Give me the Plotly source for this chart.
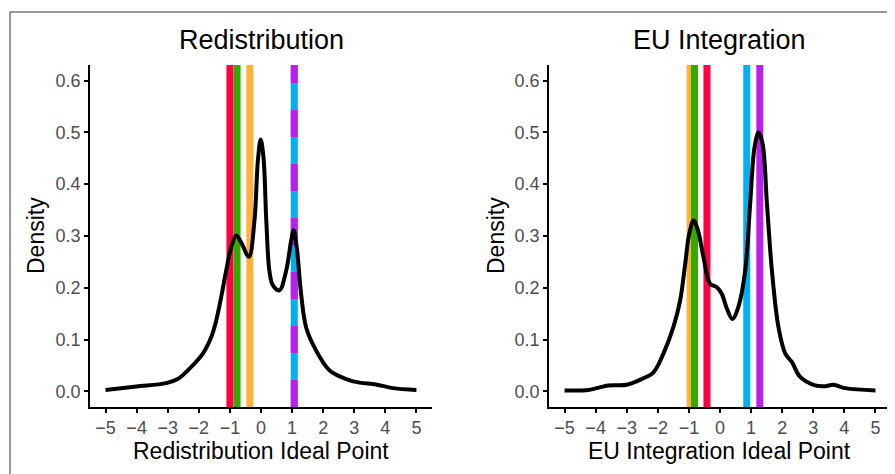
import plotly.graph_objects as go

# ---- data ----
redis_x = [-5.0, -4.01, -3.05, -2.68, -2.30, -1.87, -1.60, -1.44, -1.28, -1.12, -0.96, -0.80,
           -0.64, -0.39, -0.21, -0.10, -0.01, 0.08, 0.17, 0.27, 0.38, 0.59, 0.81, 0.97, 1.05,
           1.15, 1.29, 1.45, 1.72, 2.20, 2.74, 3.17, 3.70, 4.24, 5.0]
redis_y = [0.003, 0.0096, 0.016, 0.024, 0.044, 0.073, 0.105, 0.137, 0.182, 0.233, 0.278, 0.301,
           0.288, 0.260, 0.330, 0.446, 0.486, 0.452, 0.33, 0.233, 0.205, 0.195, 0.233, 0.291, 0.311,
           0.278, 0.188, 0.124, 0.085, 0.041, 0.024, 0.017, 0.0135, 0.0064, 0.003]

eu_x = [-5.0, -4.23, -3.59, -3.0, -2.52, -2.14, -1.82, -1.50, -1.28, -1.12, -0.99, -0.85, -0.71,
        -0.53, -0.32, -0.10, 0.06, 0.22, 0.40, 0.59, 0.81, 0.97, 1.11, 1.24, 1.37, 1.51, 1.67,
        1.88, 2.10, 2.31, 2.58, 3.06, 3.38, 3.65, 4.03, 5.0]
eu_y = [0.002, 0.003, 0.0116, 0.013, 0.024, 0.037, 0.073, 0.124, 0.176, 0.246, 0.304, 0.330, 0.311,
        0.259, 0.208, 0.201, 0.188, 0.160, 0.140, 0.163, 0.233, 0.362, 0.471, 0.500, 0.478, 0.362,
        0.233, 0.124, 0.073, 0.057, 0.028, 0.0116, 0.010, 0.013, 0.0064, 0.002]

# party positions (vertical lines)
party_colors = ["#FFB23B", "#33AA00", "#FF0040", "#00B0F0", "#BB1EEE"]
redis_lines = [-0.36, -0.77, -1.0, 1.07, 1.07]
eu_lines = [-0.96, -0.82, -0.42, 0.86, 1.28]

x_ticks = [-5, -4, -3, -2, -1, 0, 1, 2, 3, 4, 5]
y_ticks = [0.0, 0.1, 0.2, 0.3, 0.4, 0.5, 0.6]

panel_titles = ["Redistribution", "EU Integration"]
x_titles = ["Redistribution Ideal Point", "EU Integration Ideal Point"]

FONT = "Liberation Sans, Arial, Helvetica, sans-serif"

fig = go.Figure()

W, H = 895, 474
OFF = 8  # page body margin
L = 90 - OFF
T = 65 - OFF
plot_right = 891 - OFF
plot_bottom = 407 - OFF
R = W - plot_right
B = H - plot_bottom
pw = plot_right - L
ph = plot_bottom - T
dom1 = [0, 342 / pw]
dom2 = [459 / pw, 1]


def px_x(x):
    return (x - OFF - L) / pw


def px_y(y):
    return (plot_bottom - (y - OFF)) / ph


shapes = []
# vertical lines
for xa, ya, vals in (("x", "y", redis_lines), ("x2", "y2", eu_lines)):
    for i, (v, c) in enumerate(zip(vals, party_colors)):
        dash = "solid"
        if xa == "x" and i == 4:
            dash = "27px,27px"
        shapes.append(dict(type="line", xref=xa, yref=ya + " domain", x0=v, x1=v, y0=0, y1=1,
                           line=dict(color=c, width=7, dash=dash), layer="below"))

# outer border
shapes.append(dict(type="rect", xref="paper", yref="paper",
                   x0=px_x(10), x1=1.05, y0=-0.3, y1=px_y(12),
                   line=dict(color="#333333", width=1), fillcolor="rgba(0,0,0,0)"))

fig.add_trace(go.Scatter(x=redis_x, y=redis_y, mode="lines", line=dict(color="black", width=4, shape="spline", smoothing=1.0),
                         xaxis="x", yaxis="y", showlegend=False, hoverinfo="skip"))
fig.add_trace(go.Scatter(x=eu_x, y=eu_y, mode="lines", line=dict(color="black", width=4, shape="spline", smoothing=1.0),
                         xaxis="x2", yaxis="y2", showlegend=False, hoverinfo="skip"))

axis_common = dict(showgrid=False, zeroline=False, showline=True, linecolor="black", linewidth=1.5,
                   ticks="outside", ticklen=4, tickwidth=1.5, tickcolor="black",
                   tickfont=dict(family=FONT, size=18, color="#4D4D4D"))

fig.update_layout(
    width=W, height=H,
    margin=dict(l=L, r=R, t=T, b=B),
    paper_bgcolor="white", plot_bgcolor="white",
    showlegend=False,
    xaxis=dict(domain=dom1, range=[-5.5, 5.5], tickvals=x_ticks, anchor="y", **axis_common),
    yaxis=dict(domain=[0, 1], range=[-0.03, 0.63], tickvals=y_ticks, tickformat=".1f", anchor="x", **axis_common),
    xaxis2=dict(domain=dom2, range=[-5.5, 5.5], tickvals=x_ticks, anchor="y2", **axis_common),
    yaxis2=dict(domain=[0, 1], range=[-0.03, 0.63], tickvals=y_ticks, tickformat=".1f", anchor="x2", **axis_common),
    shapes=shapes,
)

annotations = []
for k, dom in enumerate((dom1, dom2)):
    cx = (dom[0] + dom[1]) / 2
    annotations.append(dict(text=panel_titles[k], xref="paper", yref="paper", x=cx, y=px_y(40),
                            showarrow=False, xanchor="center", yanchor="middle",
                            font=dict(family=FONT, size=27, color="black")))
    annotations.append(dict(text=x_titles[k], xref="paper", yref="paper", x=cx, y=px_y(451),
                            showarrow=False, xanchor="center", yanchor="middle",
                            font=dict(family=FONT, size=23, color="black")))
    ylab_x = [36, 496][k]
    annotations.append(dict(text="Density", xref="paper", yref="paper", x=px_x(ylab_x), y=0.5,
                            showarrow=False, xanchor="center", yanchor="middle", textangle=-90,
                            font=dict(family=FONT, size=23, color="black")))
fig.update_layout(annotations=annotations)

fig.write_html("out.html")
